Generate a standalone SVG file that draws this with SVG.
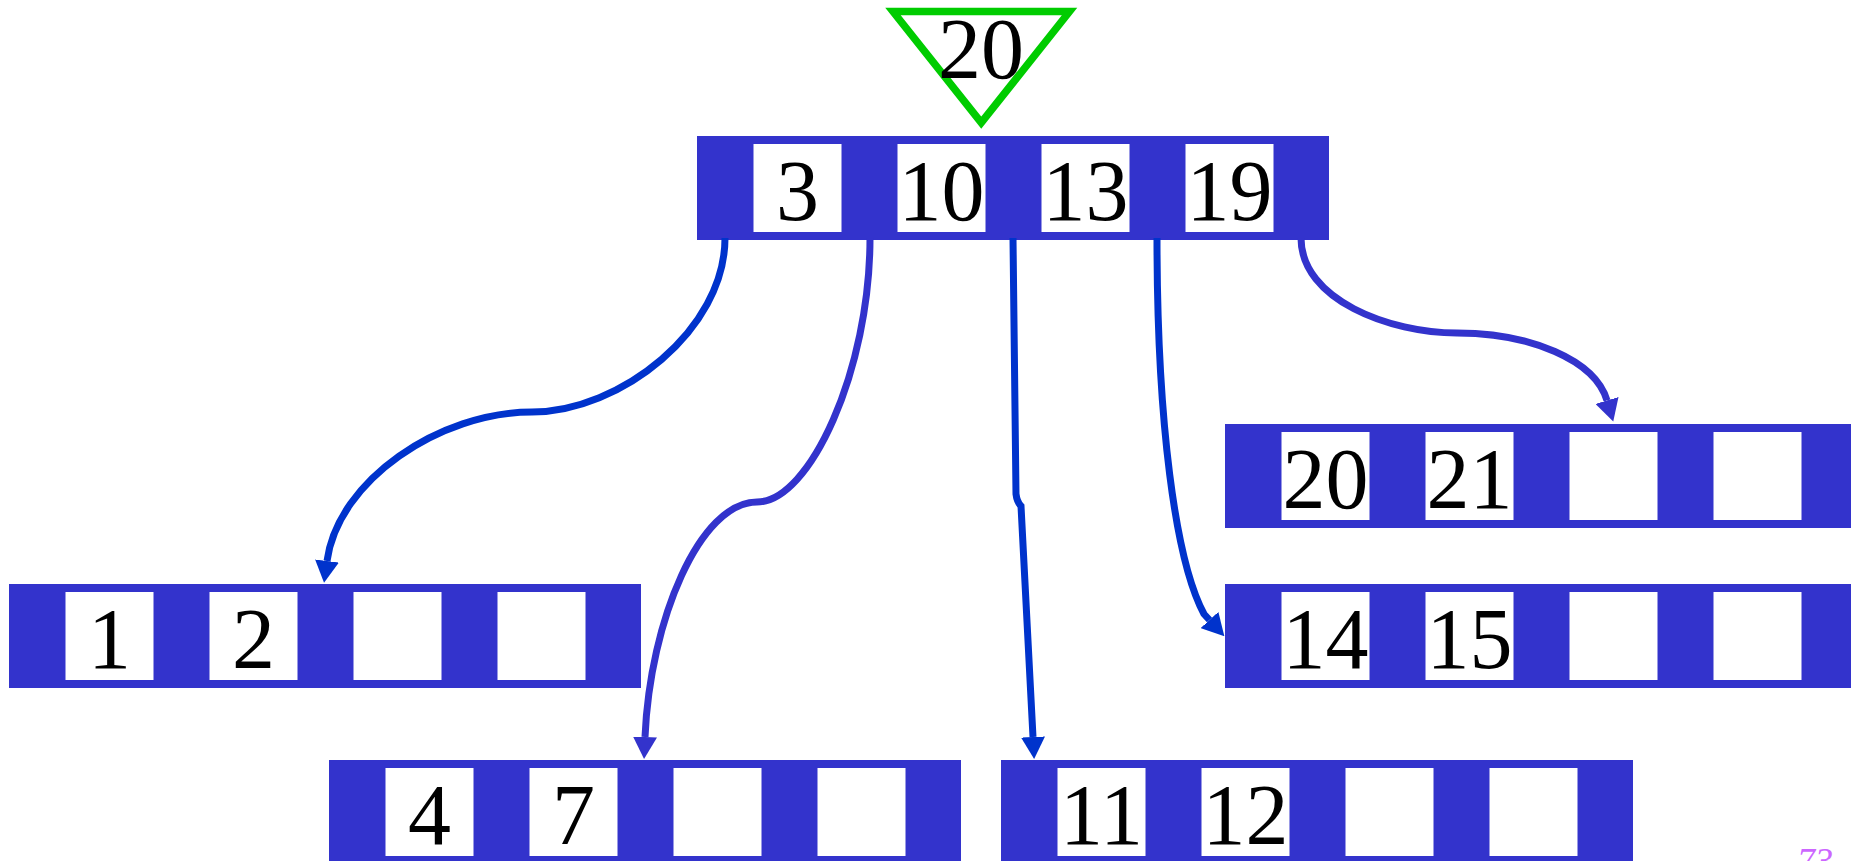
<svg xmlns="http://www.w3.org/2000/svg" width="1851" height="861" viewBox="0 0 1851 861">
  <style>
    .bar { fill: #3333CC; }
    .slot { fill: #FFFFFF; }
    .key { font-family: "Liberation Serif", "Times New Roman", serif; font-size: 86px; fill: #000000; text-anchor: middle; }
    .c1 { fill: none; stroke: #0033CC; stroke-width: 7; }
    .c2 { fill: none; stroke: #3333CC; stroke-width: 7; }
    .page { font-family: "Liberation Serif", "Times New Roman", serif; font-style: italic; font-size: 36px; fill: #CC66FF; }
  </style>
  <defs>
    <marker id="ah1" markerUnits="userSpaceOnUse" viewBox="0 0 22 24" refX="0" refY="12" markerWidth="22" markerHeight="24" orient="auto">
      <path d="M0,0 L22,12 L0,24 Z" fill="#0033CC"/>
    </marker>
    <marker id="ah2" markerUnits="userSpaceOnUse" viewBox="0 0 22 24" refX="0" refY="12" markerWidth="22" markerHeight="24" orient="auto">
      <path d="M0,0 L22,12 L0,24 Z" fill="#3333CC"/>
    </marker>
    <g id="node4">
      <rect class="bar" x="0" y="0" width="632" height="104"/>
      <rect class="slot" x="56.5" y="8" width="88" height="88"/>
      <rect class="slot" x="200.5" y="8" width="88" height="88"/>
      <rect class="slot" x="344.5" y="8" width="88" height="88"/>
      <rect class="slot" x="488.5" y="8" width="88" height="88"/>
    </g>
  </defs>
  <rect x="0" y="0" width="1851" height="861" fill="#FFFFFF"/>

  <g id="pointer">
    <polygon points="893,11.5 1069.5,11.5 981.25,122.7" fill="none" stroke="#00CC00" stroke-width="7.5" stroke-linejoin="miter"/>
    <text class="key" x="981" y="78">20</text>
  </g>

  <g id="root">
    <use href="#node4" x="697" y="136"/>
    <text class="key" x="797.5" y="220">3</text>
    <text class="key" x="941.5" y="220">10</text>
    <text class="key" x="1085.5" y="220">13</text>
    <text class="key" x="1229.5" y="220">19</text>
  </g>

  <g id="leaf-1-2">
    <use href="#node4" x="9" y="584"/>
    <text class="key" x="109.5" y="668">1</text>
    <text class="key" x="253.5" y="668">2</text>
  </g>

  <g id="leaf-4-7">
    <use href="#node4" x="329" y="760"/>
    <text class="key" x="429.5" y="844">4</text>
    <text class="key" x="573.5" y="844">7</text>
  </g>

  <g id="leaf-11-12">
    <use href="#node4" x="1001" y="760"/>
    <text class="key" x="1101.5" y="844">11</text>
    <text class="key" x="1245.5" y="844">12</text>
  </g>

  <g id="leaf-14-15">
    <use href="#node4" x="1225" y="584"/>
    <text class="key" x="1325.5" y="668">14</text>
    <text class="key" x="1469.5" y="668">15</text>
  </g>

  <g id="leaf-20-21">
    <use href="#node4" x="1225" y="424"/>
    <text class="key" x="1325.5" y="508">20</text>
    <text class="key" x="1469.5" y="508">21</text>
  </g>

  <g id="connectors">
    <path class="c1" d="M725,238 C725,330 620,412 532,412 C440,412 338,480 327,561" marker-end="url(#ah1)"/>
    <path class="c2" d="M870,238 C870,370 810,502 757,502 C700,502 650,620 645,737" marker-end="url(#ah2)"/>
    <path class="c1" d="M1013,238 L1016,494 Q1017,502 1021,506 L1033,737" marker-end="url(#ah1)"/>
    <path class="c1" d="M1157,238 C1157,420 1175,560 1204,614 L1209.5,620" marker-end="url(#ah1)"/>
    <path class="c2" d="M1301,238 C1301,300 1390,333 1457,333 C1530,333 1595,360 1607,400.5" marker-end="url(#ah2)"/>
  </g>

  <text class="page" x="1797" y="873">73</text>
</svg>
